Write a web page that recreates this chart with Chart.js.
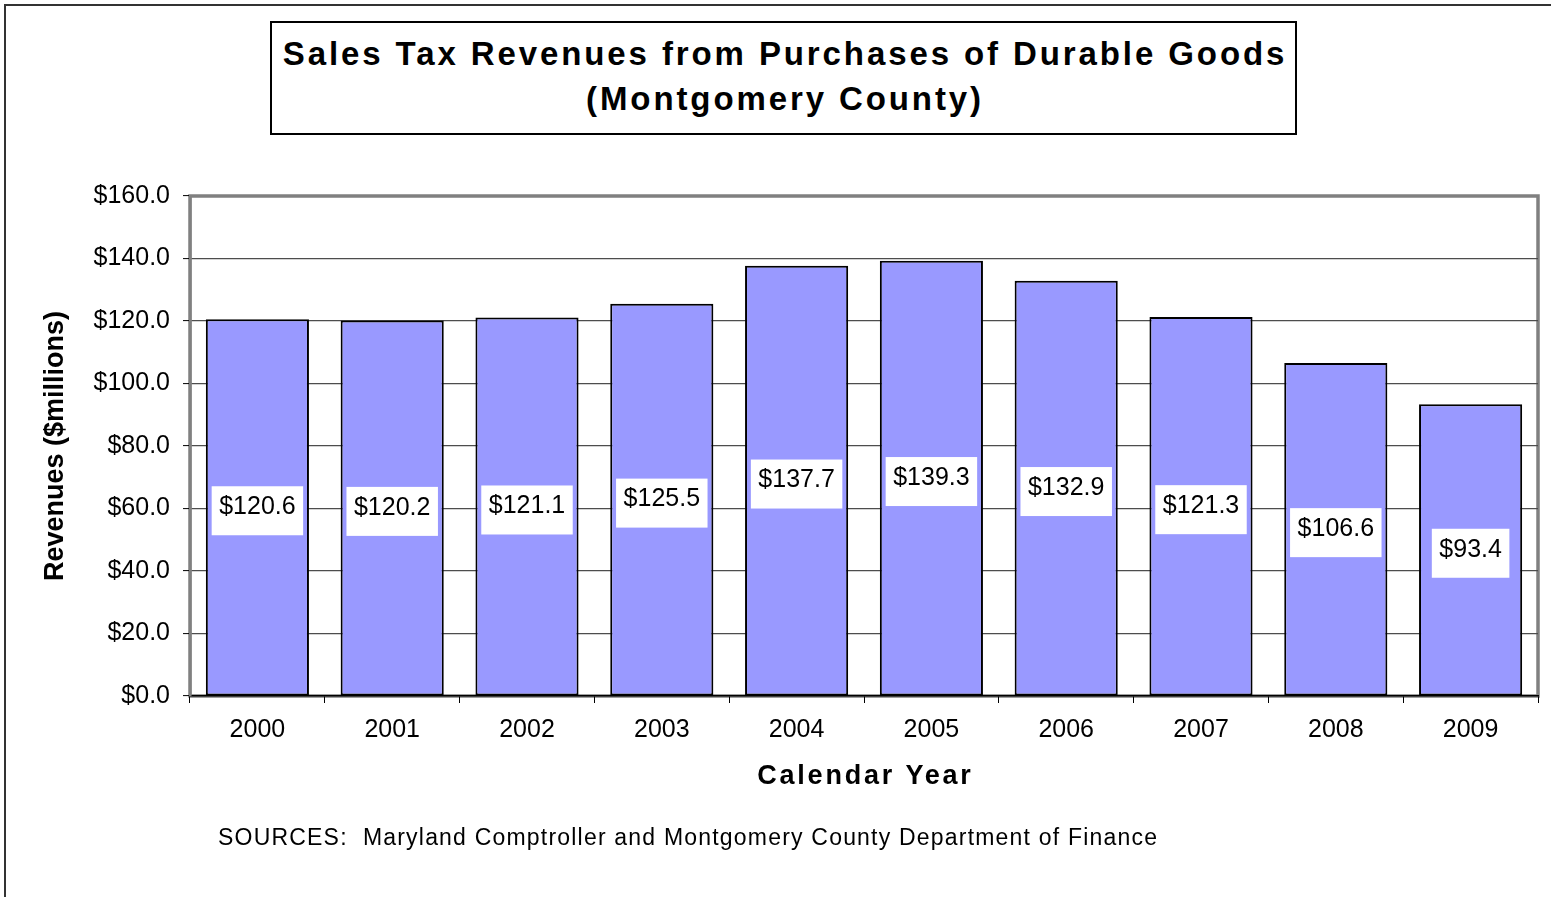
<!DOCTYPE html>
<html>
<head>
<meta charset="utf-8">
<script src="https://cdn.jsdelivr.net/npm/chart.js@4/dist/chart.umd.min.js"></script>
<style>
  html, body { margin: 0; padding: 0; background: #fff; overflow: hidden; }
  body { width: 1551px; height: 897px; position: relative; font-family: "Liberation Sans", Arial, sans-serif; }
  #marco { position: absolute; left: 4px; top: 4px; width: 1700px; height: 1000px; border-left: 2px solid #333; border-top: 2px solid #333; }
  #grafico { position: absolute; left: 0; top: 0; }
  #titulo {
    position: absolute; left: 270px; top: 21px; width: 1020px; height: 102px;
    border: 2px solid #000; background: #fff; text-align: center;
    font-weight: bold; font-size: 33px; letter-spacing: 2.9px; line-height: 45px;
    padding-top: 8px; padding-left: 3px; box-sizing: content-box;
  }
  #fuente { position: absolute; left: 218px; top: 822px; font-size: 23px; letter-spacing: 1.2px; line-height: 30px; }
</style>
</head>
<body>
<div id="marco"></div>
<canvas id="grafico" width="1551" height="897"></canvas>
<div id="titulo">Sales Tax Revenues from Purchases of Durable Goods<br>(Montgomery County)</div>
<div id="fuente">SOURCES:&nbsp; Maryland Comptroller and Montgomery County Department of Finance</div>

<script>
// Datos del gráfico
const years = ["2000", "2001", "2002", "2003", "2004", "2005", "2006", "2007", "2008", "2009"];
const revenues = [120.6, 120.2, 121.1, 125.5, 137.7, 139.3, 132.9, 121.3, 106.6, 93.4];
const yTicks = [0, 20, 40, 60, 80, 100, 120, 140, 160];
const xTitle = "Calendar Year";
const yTitle = "Revenues ($millions)";

const FONT = '"Liberation Sans", Arial, sans-serif';

function dinero(v) {
  return "$" + Number(v).toFixed(1);
}

// Marco gris del área de trazado
const marcoPlot = {
  id: "marcoPlot",
  beforeDraw(chart) {
    const { ctx, chartArea: a } = chart;
    ctx.save();
    ctx.strokeStyle = "#808080";
    ctx.lineWidth = 3.5;
    ctx.strokeRect(a.left, a.top, a.right - a.left, a.bottom - a.top);
    ctx.restore();
  }
};

// Etiquetas con fondo blanco en el centro de cada barra
const etiquetas = {
  id: "etiquetas",
  afterDatasetsDraw(chart) {
    const { ctx } = chart;
    const meta = chart.getDatasetMeta(0);
    ctx.save();
    ctx.font = "25px " + FONT;
    ctx.textAlign = "center";
    ctx.textBaseline = "middle";
    meta.data.forEach((bar, i) => {
      const texto = dinero(revenues[i]);
      const mid = (bar.y + bar.base) / 2;
      const w = ctx.measureText(texto).width + 15;
      ctx.fillStyle = "#fff";
      ctx.fillRect(bar.x - w / 2, mid - 21, w, 49);
      ctx.fillStyle = "#000";
      ctx.fillText(texto, bar.x, mid);
    });
    ctx.restore();
  }
};

// Título del eje X (con espaciado entre letras)
const tituloX = {
  id: "tituloX",
  afterDraw(chart) {
    const { ctx, chartArea: a } = chart;
    ctx.save();
    ctx.font = "bold 27px " + FONT;
    ctx.letterSpacing = "2.8px";
    ctx.textAlign = "center";
    ctx.textBaseline = "middle";
    ctx.fillStyle = "#000";
    ctx.fillText(xTitle, (a.left + a.right) / 2 + 1.4, 777);
    ctx.restore();
  }
};

new Chart(document.getElementById("grafico"), {
  type: "bar",
  data: {
    labels: years,
    datasets: [{
      data: revenues,
      backgroundColor: "#9999FF",
      borderColor: "#000",
      borderWidth: 2,
      borderSkipped: false,
      barPercentage: 0.765,
      categoryPercentage: 1
    }]
  },
  options: {
    responsive: false,
    animation: false,
    devicePixelRatio: 1,
    layout: { padding: { left: 20, top: 196, right: 13, bottom: 101 } },
    plugins: {
      legend: { display: false },
      tooltip: { enabled: false }
    },
    scales: {
      x: {
        afterFit(scale) { scale.height = 100; },
        grid: {
          offset: true,
          drawOnChartArea: false,
          drawTicks: true,
          tickLength: 7,
          tickColor: "#000",
          tickWidth: 1
        },
        border: { display: true, color: "#000", width: 1.5 },
        ticks: {
          color: "#000",
          padding: 12,
          maxRotation: 0,
          font: { family: FONT, size: 25 }
        }
      },
      y: {
        min: yTicks[0],
        max: yTicks[yTicks.length - 1],
        afterFit(scale) { scale.width = 170; },
        afterBuildTicks(scale) { scale.ticks = yTicks.map(v => ({ value: v })); },
        grid: {
          color: ctx => (ctx.tick && (ctx.tick.value === 0 || ctx.tick.value === 160)) ? "rgba(0,0,0,0)" : "#4d4d4d",
          lineWidth: 1.2,
          tickLength: 7,
          tickColor: "#000",
          tickWidth: 1
        },
        border: { display: true, color: "#808080", width: 2.5 },
        ticks: {
          color: "#000",
          padding: 13,
          font: { family: FONT, size: 25 },
          callback: v => dinero(v)
        },
        title: {
          display: true,
          text: yTitle,
          color: "#000",
          padding: { top: 19, bottom: 0 },
          font: { family: FONT, size: 27, weight: "bold" }
        }
      }
    }
  },
  plugins: [marcoPlot, etiquetas, tituloX]
});
</script>
</body>
</html>
